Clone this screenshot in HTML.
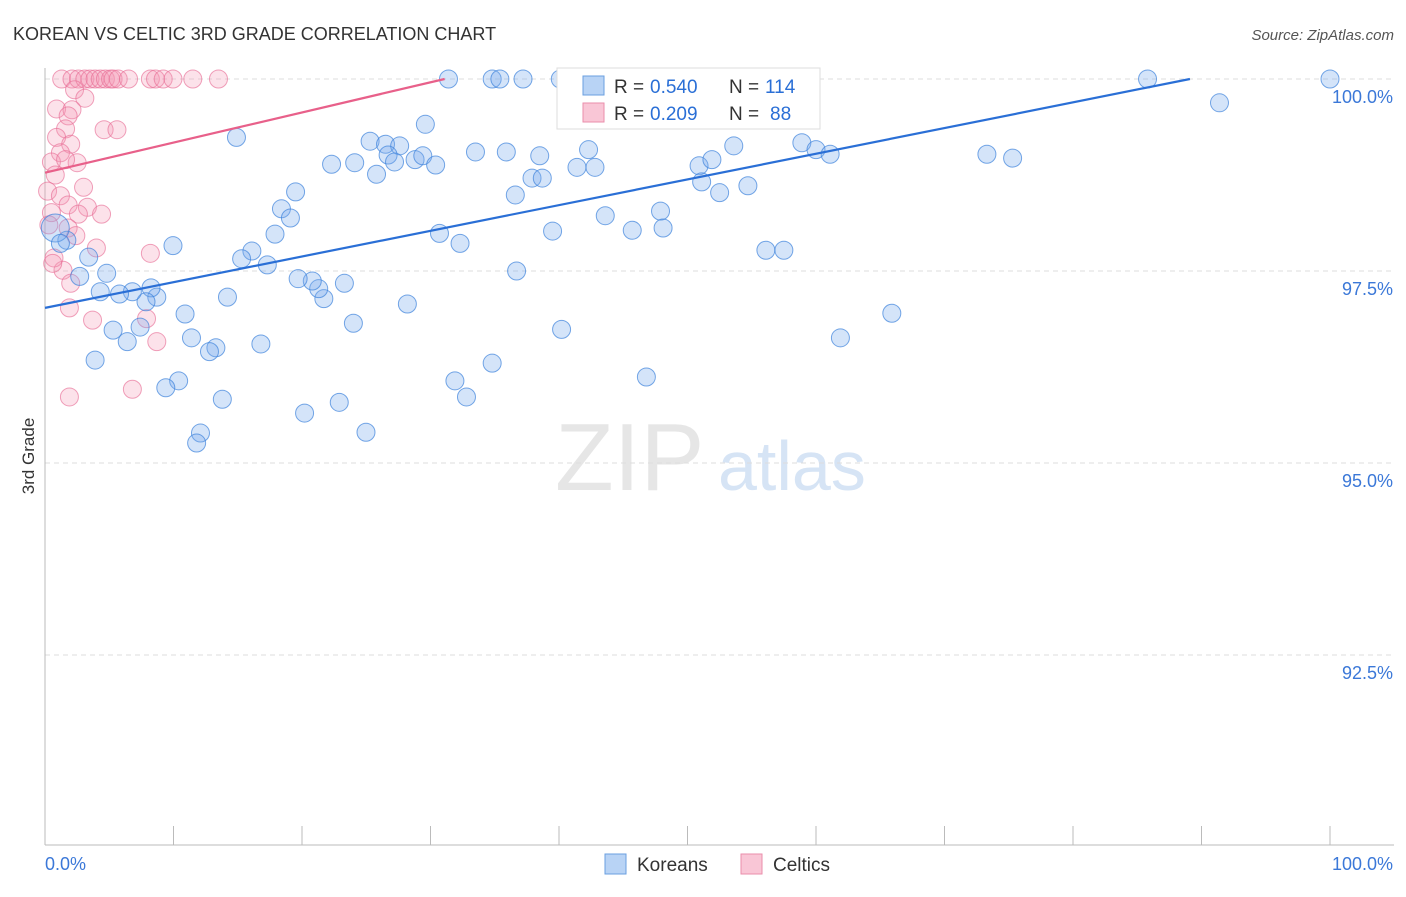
<!DOCTYPE html>
<html><head><meta charset="utf-8"><style>
body{margin:0;background:#fff;font-family:"Liberation Sans",sans-serif;}
svg text{font-family:"Liberation Sans",sans-serif;}
</style></head><body>
<svg id="c" width="1406" height="892">
<text x="13" y="40" font-size="18" fill="#333">KOREAN VS CELTIC 3RD GRADE CORRELATION CHART</text>
<text x="1394" y="40" font-size="15" fill="#555" text-anchor="end" font-style="italic">Source: ZipAtlas.com</text>
<text x="34" y="456" font-size="17" fill="#333" transform="rotate(-90 34 456)" text-anchor="middle">3rd Grade</text>
<text x="555" y="490" font-size="96" fill="#e6e6e6" font-family="Liberation Serif">ZIP</text>
<text x="718" y="490" font-size="70" fill="#d6e4f5">atlas</text>
<g id="grid"></g><g id="pts"></g><g id="lines"></g>
<g>
<rect x="557" y="68" width="263" height="61" fill="#fff" stroke="#ddd"/>
<rect x="583" y="76" width="21" height="19" fill="#b8d3f5" stroke="#6a9fe0"/>
<rect x="583" y="103" width="21" height="19" fill="#f9c6d6" stroke="#ea8eab"/>
<text x="614" y="93" font-size="19" fill="#333">R = </text><text x="650" y="93" font-size="19" fill="#2a6fd6">0.540</text>
<text x="729" y="93" font-size="19" fill="#333">N = </text><text x="765" y="93" font-size="19" fill="#2a6fd6">114</text>
<text x="614" y="120" font-size="19" fill="#333">R = </text><text x="650" y="120" font-size="19" fill="#2a6fd6">0.209</text>
<text x="729" y="120" font-size="19" fill="#333">N = </text><text x="770" y="120" font-size="19" fill="#2a6fd6">88</text>
</g>
<g>
<rect x="605" y="854" width="21" height="20" fill="#b8d3f5" stroke="#6a9fe0"/>
<text x="637" y="871" font-size="19" fill="#333">Koreans</text>
<rect x="741" y="854" width="21" height="20" fill="#f9c6d6" stroke="#ea8eab"/>
<text x="773" y="871" font-size="19" fill="#333">Celtics</text>
</g>
</svg>
<script>
const koreansX=[31.4,37.2,34.8,35.4,40.1,40.6,47.1,54.5,58,58.3,85.8,100,91.4,14.9,29.6,25.3,26.5,27.6,22.3,24.1,26.7,27.2,28.8,29.4,30.4,25.8,33.5,35.9,38.5,37.9,38.7,36.6,41.4,42.3,42.8,43.6,45.7,39.5,30.7,32.3,36.7,47.9,48.1,50.9,51.9,51.1,52.5,53.6,54.7,56.1,57.5,58.9,60.0,61.1,73.3,75.3,65.9,61.9,46.8,40.2,34.8,31.9,32.8,28.2,23.3,24.0,22.9,24.98,20.2,21.7,21.3,20.8,19.7,19.5,18.4,19.1,17.9,17.3,16.1,15.3,14.2,16.8,13.3,12.8,13.8,12.1,11.8,10.4,9.4,11.4,10.9,9.96,8.7,8.25,7.86,7.4,6.4,5.3,3.9,6.8,5.8,4.3,4.8,2.7,3.4,1.7,0.8,1.2];
const koreansY=[100,100,100,100,100,100,100,100,100,100,100,100,99.69,99.24,99.41,99.19,99.15,99.13,98.89,98.91,99.01,98.92,98.95,99.0,98.88,98.76,99.05,99.05,99.0,98.71,98.71,98.49,98.85,99.08,98.85,98.22,98.03,98.02,97.99,97.86,97.5,98.28,98.06,98.87,98.95,98.66,98.52,99.13,98.61,97.77,97.77,99.17,99.08,99.02,99.02,98.97,96.95,96.63,96.12,96.74,96.3,96.07,95.86,97.07,97.34,96.82,95.79,95.4,95.65,97.14,97.27,97.37,97.4,98.53,98.31,98.19,97.98,97.58,97.76,97.66,97.16,96.55,96.5,96.45,95.83,95.39,95.26,96.07,95.98,96.63,96.94,97.83,97.16,97.28,97.1,96.77,96.58,96.73,96.34,97.23,97.2,97.23,97.47,97.43,97.68,97.9,98.06,97.86];
const celticsX=[1.3,2.1,2.6,3.1,3.5,3.9,4.3,4.7,5.1,5.3,5.7,6.5,8.2,8.6,9.2,9.96,11.5,13.5,2.3,3.1,0.9,2.1,1.8,4.6,5.6,1.6,0.9,2.0,1.2,2.5,0.5,1.6,0.8,3.0,0.2,1.2,1.8,3.3,4.4,2.6,0.5,1.8,2.4,4.0,8.2,1.4,2.0,1.9,3.7,7.9,8.7,6.8,1.9,0.7,0.3,0.6];
const celticsY=[100,100,100,100,100,100,100,100,100,100,100,100,100,100,100,100,100,100,99.86,99.75,99.61,99.6,99.52,99.34,99.34,99.35,99.24,99.15,99.04,98.91,98.92,98.95,98.75,98.59,98.54,98.48,98.36,98.33,98.24,98.24,98.26,98.06,97.96,97.8,97.73,97.51,97.34,97.02,96.86,96.88,96.58,95.96,95.86,97.67,98.1,97.6];
const yTicks=[100,97.5,95,92.5];
const yTickLabels=["100.0%","97.5%","95.0%","92.5%"];
const xTickVals=[0,10,20,30,40,50,60,70,80,90,100];
const blueTrend=[0,97.02,89.1,100];
const pinkTrend=[0,98.78,31.1,100];
const X0=45,X1=1330,Y0=79,YPX=76.8;
const sx=v=>X0+(X1-X0)*v/100, sy=v=>Y0+(100-v)*YPX;
const NS="http://www.w3.org/2000/svg";
function mk(t,a,p){const e=document.createElementNS(NS,t);for(const k in a)e.setAttribute(k,a[k]);p.appendChild(e);return e;}
const g=document.getElementById('grid');
yTicks.forEach((v,i)=>{
 const l=mk('line',{x1:X0,x2:1394,y1:sy(v),y2:sy(v),stroke:'#ddd','stroke-dasharray':'5,4'},g);
 
 
 const t=mk('text',{x:1393,y:sy(v)+24,'font-size':18,fill:'#3b78d8','text-anchor':'end'},g);
 t.textContent=yTickLabels[i];
 
 
});
const ax=mk('line',{x1:X0,x2:X0,y1:68,y2:845,stroke:'#bbb'},g);


const bx=mk('line',{x1:X0,x2:1394,y1:845,y2:845,stroke:'#bbb'},g);


xTickVals.forEach(v=>{
 const k=mk('line',{x1:sx(v),x2:sx(v),y1:826,y2:845,stroke:'#bbb'},g);
 
 
});
[[0,"0.0%",45,'start'],[100,"100.0%",1393,'end']].forEach(a=>{
 const t=mk('text',{x:a[2],y:870,'font-size':18,fill:'#3b78d8','text-anchor':a[3]},g);
 t.textContent=a[1];
 
 
});
const pg=document.getElementById('pts');
celticsX.forEach((x,i)=>{
 const c=mk('circle',{cx:sx(x),cy:sy(celticsY[i]),r:9,fill:'rgba(244,150,180,0.28)',stroke:'rgba(232,110,150,0.65)','stroke-width':1},pg);
 
 
});
koreansX.forEach((x,i)=>{
 const c=mk('circle',{cx:sx(x),cy:sy(koreansY[i]),r:(i==koreansX.length-2?14:9),fill:'rgba(120,170,235,0.32)',stroke:'rgba(60,130,220,0.7)','stroke-width':1},pg);
 
 
});
const lg=document.getElementById('lines');
const bl=mk('line',{x1:sx(blueTrend[0]),y1:sy(blueTrend[1]),x2:sx(blueTrend[2]),y2:sy(blueTrend[3]),stroke:'#2a6fd6','stroke-width':2.2},lg);


const pl=mk('line',{x1:sx(pinkTrend[0]),y1:sy(pinkTrend[1]),x2:sx(pinkTrend[2]),y2:sy(pinkTrend[3]),stroke:'#e8608a','stroke-width':2.2},lg);


</script>
</body></html>
